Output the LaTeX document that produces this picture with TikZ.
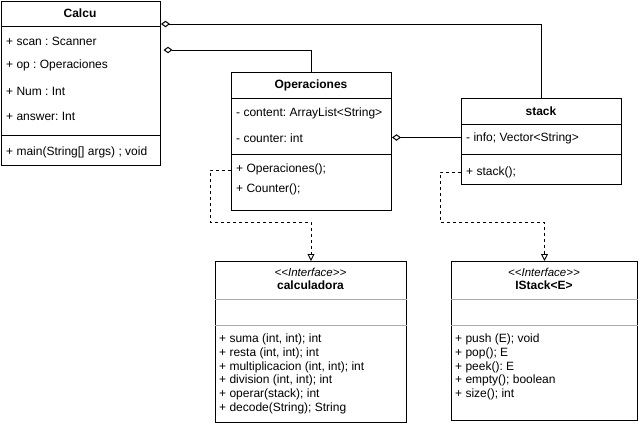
\documentclass[tikz,border=0pt]{standalone}
\usepackage{fontspec}
\setmainfont{Liberation Sans}
\usetikzlibrary{arrows.meta,calc}
\frenchspacing
\begin{document}
\begin{tikzpicture}[x=1pt,y=-1pt,
  font=\fontsize{12}{13.7}\selectfont,
  box/.style={draw,line width=1pt,inner sep=0,anchor=north west},
  sep/.style={line width=1pt},
  gsep/.style={draw=gray!65,line width=0.8pt},
  txt/.style={anchor=west,inner sep=0},
  ttl/.style={inner sep=0,font=\fontsize{12}{13.6}\selectfont\bfseries},
  stereo/.style={inner sep=0,font=\fontsize{11.5}{13}\selectfont\itshape},
  mlist/.style={anchor=north west,inner sep=0,align=left},
  agg/.style={line width=1pt,{Diamond[open,length=9pt,width=6.5pt]}-},
  real/.style={line width=0.9pt,dash pattern=on 3pt off 3pt,-{Triangle[open,length=7pt,width=7pt]}}]
\useasboundingbox (0,0) rectangle (641,431);
\fill[white] (0,0) rectangle (641,431);

% Calcu
\node[box,minimum width=159.5pt,minimum height=164.5pt] (calcu) at (0.5,0.5) {};
\draw[sep] ($(calcu.north west)+(0,26)$) -- ($(calcu.north east)+(0,26)$);
\draw[sep] ($(calcu.north west)+(0,135)$) -- ($(calcu.north east)+(0,135)$);
\node[ttl] (calcuT) at (80,13.5) {Calcu};
\node[txt] (c1) at (6,41) {+ scan : Scanner};
\node[txt] (c2) at (6,65.5) {+ op : Operaciones};
\node[txt] (c3) at (6,91) {+ Num : Int};
\node[txt] (c4) at (6,116.5) {+ answer: Int};
\node[txt] (c5) at (6,152.5) {+ main(String[] args) ; void};

% Operaciones
\node[box,minimum width=160pt,minimum height=138pt] (oper) at (231,72) {};
\draw[sep] ($(oper.north west)+(0,26)$) -- ($(oper.north east)+(0,26)$);
\draw[sep] ($(oper.north west)+(0,82)$) -- ($(oper.north east)+(0,82)$);
\node[ttl] (operT) at (311,85.5) {Operaciones};
\node[txt] (o1) at (236,113) {- content: ArrayList<String>};
\node[txt] (o2) at (236,138) {- counter: int};
\node[txt] (o3) at (236,169) {+ Operaciones();};
\node[txt] (o4) at (236,189) {+ Counter();};

% stack
\node[box,minimum width=160pt,minimum height=86pt] (stack) at (461,98) {};
\draw[sep] ($(stack.north west)+(0,26)$) -- ($(stack.north east)+(0,26)$);
\draw[sep] ($(stack.north west)+(0,56)$) -- ($(stack.north east)+(0,56)$);
\node[ttl] (stackT) at (541,111.5) {stack};
\node[txt] (s1) at (466,138) {- info; Vector<String>};
\node[txt] (s2) at (466,172) {+ stack();};

% calculadora
\node[box,minimum width=191pt,minimum height=161pt] (calc) at (215,261) {};
\draw[gsep] ($(calc.north west)+(0,38)$) -- ($(calc.north east)+(0,38)$);
\draw[gsep] ($(calc.north west)+(0,64)$) -- ($(calc.north east)+(0,64)$);
\node[stereo] (calcS) at (310.5,272) {{<}{<}Interface{>}{>}};
\node[ttl] (calcT) at (310.5,285) {calculadora};
\node[mlist] (calcM) at (219,334) {+ suma (int, int); int\\+ resta (int, int); int\\+ multiplicacion (int, int); int\\+ division (int, int); int\\+ operar(stack); int\\+ decode(String); String};

% IStack
\node[box,minimum width=186pt,minimum height=159pt] (istack) at (451,261) {};
\draw[gsep] ($(istack.north west)+(0,38)$) -- ($(istack.north east)+(0,38)$);
\draw[gsep] ($(istack.north west)+(0,64)$) -- ($(istack.north east)+(0,64)$);
\node[stereo] (istackS) at (544,272) {{<}{<}Interface{>}{>}};
\node[ttl] (istackT) at (544,285) {IStack<E>};
\node[mlist] (istackM) at (455,334) {+ push (E); void\\+ pop(); E\\+ peek(): E\\+ empty(); boolean\\+ size(); int};

% connectors
\coordinate (a1) at ($(calcu.north east)+(0,23.5)$);
\draw[agg] (a1) -| (stack.north);
\coordinate (a2) at ($(calcu.north east)+(2.5,49.5)$);
\draw[agg] (a2) -| (oper.north);
\coordinate (a3) at ($(oper.north east)+(0,65.5)$);
\draw[agg] (a3) -- (a3 -| stack.west);
\coordinate (d1) at ($(oper.north west)+(0,98)$);
\draw[real] (d1) -- ++(-21,0) |- (210,222) -| (calc.north);
\coordinate (d2) at ($(stack.north west)+(0,74)$);
\draw[real] (d2) -- ++(-21,0) |- (440,222) -| (istack.north);
\end{tikzpicture}
\end{document}
